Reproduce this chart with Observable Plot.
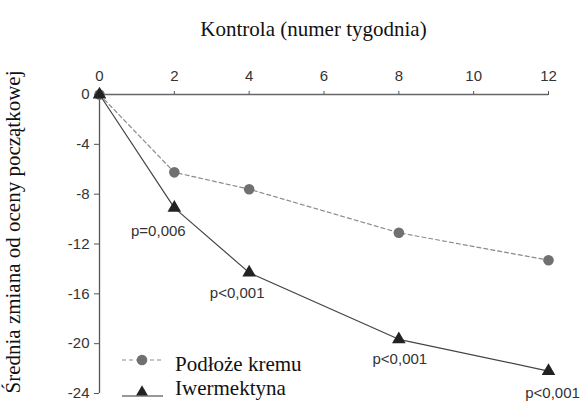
<!DOCTYPE html>
<html><head><meta charset="utf-8">
<script src="https://cdn.jsdelivr.net/npm/d3@7"></script>
<script src="https://cdn.jsdelivr.net/npm/@observablehq/plot@0.6"></script>
<style>
body{margin:0;background:#fff;}
#chart{position:relative;width:584px;height:403px;}
</style>
</head><body><div id="chart"></div>
<script>
const weeks = [0, 2, 4, 8, 12];
const creamValues = [0, -6.25, -7.6, -11.1, -13.3];
const ivermectinValues = [0, -9.1, -14.3, -19.65, -22.2];
const xTicks = [0, 2, 4, 6, 8, 10, 12];
const yTicks = [0, -4, -8, -12, -16, -20, -24];
const pWeeks = [2, 4, 8, 12];
const pLabels = ["p=0,006", "p<0,001", "p<0,001", "p<0,001"];
const pDx = [-16, -12, 1, 4];
const pDy = [23, 21, 20, 22];
const seriesNames = ["Podłoże kremu", "Iwermektyna"];
const titleText = "Kontrola (numer tygodnia)";
const yLabelText = "Średnia zmiana od oceny początkowej";

const cream = weeks.map((w, i) => ({w, v: creamValues[i]}));
const iver = weeks.map((w, i) => ({w, v: ivermectinValues[i]}));
const pData = pWeeks.map((w, i) => ({w, v: ivermectinValues[weeks.indexOf(w)], label: pLabels[i], dx: pDx[i], dy: pDy[i]}));

const sans = "Liberation Sans";
const serif = "Liberation Serif";

const plot = Plot.plot({
  width: 584, height: 403,
  marginTop: 94, marginLeft: 99, marginRight: 36, marginBottom: 10,
  style: {fontFamily: sans, fontSize: "15px", background: "#fff"},
  x: {domain: [0, 12]},
  y: {domain: [-24, 0]},
  marks: [
    Plot.axisX(xTicks, {anchor: "top", tickSize: 4, tickPadding: 10, tickFormat: d => String(d), fontSize: 15, label: null, stroke: "#555", fill: "#333"}),
    Plot.axisY(yTicks, {anchor: "left", tickSize: 5, tickPadding: 5, tickFormat: d => String(d), fontSize: 15, label: null, stroke: "#555", fill: "#333"}),
    Plot.ruleY([0], {stroke: "#666", strokeWidth: 1.3}),
    Plot.ruleX([0], {stroke: "#555", strokeWidth: 1.3}),
    Plot.line(cream, {x: "w", y: "v", stroke: "#8a8a8a", strokeWidth: 1.2, strokeDasharray: "4,3"}),
    Plot.line(iver, {x: "w", y: "v", stroke: "#444", strokeWidth: 1.2}),
    Plot.dot(cream, {x: "w", y: "v", r: 5.3, fill: "#707070", stroke: "none"}),
    Plot.dot(iver, {x: "w", y: "v", symbol: "triangle2", r: 6.5, fill: "#222", stroke: "none"}),
    ...pData.map(d => Plot.text([d], {x: "w", y: "v", text: "label", dx: d.dx, dy: d.dy, fontSize: 15, fill: "#333"})),
    Plot.text([titleText], {frameAnchor: "top", lineAnchor: "middle", textAnchor: "middle", dx: -10.5, dy: -65, fontFamily: serif, fontSize: 21, fill: "#111", className: "serif-text"}),
    Plot.text([yLabelText], {frameAnchor: "left", textAnchor: "middle", lineAnchor: "middle", rotate: -90, dx: -86, dy: -12, fontFamily: serif, fontSize: 21, fill: "#111", className: "serif-text"})
  ]
});
document.getElementById("chart").appendChild(plot);

// legend drawn into the plot's svg
const svg = d3.select(plot);
const lg = svg.append("g").attr("class", "serif-text");
const rows = [
  {y: 360, ty: 371, dash: "4,3", stroke: "#8a8a8a", kind: "circle"},
  {y: 396, ty: 395, dash: null, stroke: "#333", kind: "triangle"}
];
rows.forEach((r, i) => {
  lg.append("line").attr("x1", 122).attr("x2", 163).attr("y1", r.y).attr("y2", r.y)
    .attr("stroke", r.stroke).attr("stroke-width", 1.2).attr("stroke-dasharray", r.dash);
  if (r.kind === "circle") {
    lg.append("circle").attr("cx", 142).attr("cy", r.y).attr("r", 5.3).attr("fill", "#707070");
  } else {
    lg.append("path").attr("transform", `translate(142,${r.y - 4})`)
      .attr("d", d3.symbol(d3.symbolTriangle2, 100)()).attr("fill", "#222");
  }
  lg.append("text").attr("x", 175).attr("y", r.ty).text(seriesNames[i])
    .attr("text-anchor", "start")
    .attr("font-family", serif).attr("font-size", 21).attr("fill", "#111");
});

// force font families inline
svg.selectAll("text").style("font-family", "'" + sans + "'", "important");
svg.selectAll(".serif-text text").style("font-family", "'" + serif + "'", "important");
</script></body></html>
